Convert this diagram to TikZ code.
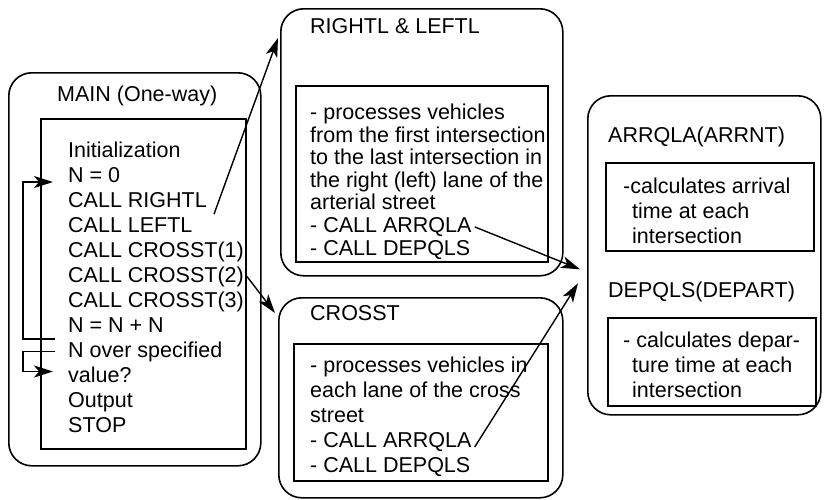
\documentclass[tikz,border=0pt]{standalone}
\usepackage{fontspec}
\setmainfont{Liberation Sans}
\usetikzlibrary{arrows.meta,positioning,calc}

\begin{document}
\begin{tikzpicture}[x=1pt, y=-1pt,
		font=\fontsize{21.5}{25}\selectfont,
		module/.style = {draw, line width=1.6pt, rounded corners=23pt, anchor=north west, inner sep=0pt},
		frame/.style  = {draw, line width=1.5pt, anchor=north west, inner sep=0pt},
		title/.style  = {anchor=base west, inner sep=3pt},
		line/.style   = {anchor=base west, inner sep=3pt, text height=15pt, text depth=4pt},
		link/.style   = {->, line width=1.4pt},
		>={Stealth[length=19pt,width=12pt,inset=5pt]}]
		
		\useasboundingbox (0,0) rectangle (824,499);
		
		% the rounded modules
		\node[module, minimum width=252pt, minimum height=393pt] (main) at (8,72) {};
		\node[module, minimum width=282pt, minimum height=267pt] (rl) at (280,8) {};
		\node[module, minimum width=284pt, minimum height=200pt] (cr) at (278,297) {};
		\node[module, minimum width=233pt, minimum height=319pt] (fn) at (587,95) {};
		
		% the inner frames
		\node[frame, minimum width=205pt, minimum height=330pt] (mainbox) at (40,118) {};
		\node[frame, minimum width=252pt, minimum height=176pt] (rlbox) at (295,85) {};
		\node[frame, minimum width=254pt, minimum height=137pt] (crbox) at (293,343) {};
		\node[frame, minimum width=208pt, minimum height=88pt] (arrbox) at (605,162) {};
		\node[frame, minimum width=208pt, minimum height=88pt] (depbox) at (607,317) {};
		
		% titles
		\begin{scope}[every node/.style={title}]
			\node (maint) at (54,101) {MAIN (One-way)};
			\node (rlt) at (307,33) {RIGHTL \& LEFTL};
			\node (crt) at (307,320) {CROSST};
			\node (arrt) at (605,142) {ARRQLA(ARRNT)};
			\node (dept) at (605,297) {DEPQLS(DEPART)};
		\end{scope}
		
		% lines of the main program
		\foreach \txt [count=\i] in {Initialization, N = 0, CALL RIGHTL, CALL LEFTL,
			CALL CROSST(1), CALL CROSST(2), CALL CROSST(3), N = N + N,
			N over specified, value?, Output, STOP}
		\node[line] (m\i) at (65, 132+25*\i) {\txt};
		
		% lines of RIGHTL & LEFTL
		\foreach \txt [count=\i] in {- processes vehicles, from the first intersection,
			to the last intersection in, the right (left) lane of the, arterial street,
			- CALL ARRQLA, - CALL DEPQLS}
		\node[line] (r\i) at (307, 96.8+22.6*\i) {\txt};
		
		% lines of CROSST
		\foreach \txt [count=\i] in {- processes vehicles in, each lane of the cross,
			street, - CALL ARRQLA, - CALL DEPQLS}
		\node[line] (c\i) at (307, 347+25*\i) {\txt};
		
		% lines of the two functions
		\begin{scope}[every node/.style={line}]
			\node (a1) at (620,193) {-calculates arrival};
			\node (a2) at (629,218) {time at each};
			\node (a3) at (629,243) {intersection};
			\node (d1) at (620,347) {- calculates depar-};
			\node (d2) at (629,372) {ture time at each};
			\node (d3) at (629,397) {intersection};
		\end{scope}
		
		% calls between the modules
		\draw[link] ([xshift=4pt]m3.south east) -- ($(rl.north west)+(-2,30)$);
		\draw[link] (m6.east) -- ($(cr.north west)+(-3,16)$);
		\draw[link] (r6.east) -- ($(fn.west)+(-7,14)$);
		\draw[link] (c4.base east) -- ($(fn.west)+(-9,28)$);
		
		% loops of the main program
		\draw[link] ([xshift=-10pt]m9.north west) -- ++(-32,0) |- ([xshift=-12pt]m2.base west);
		\draw[link] ([xshift=-10pt]m9.west) -- ++(-32,0) |- ([xshift=-12pt,yshift=5pt]m10.west);
		
\end{tikzpicture}
\end{document}
